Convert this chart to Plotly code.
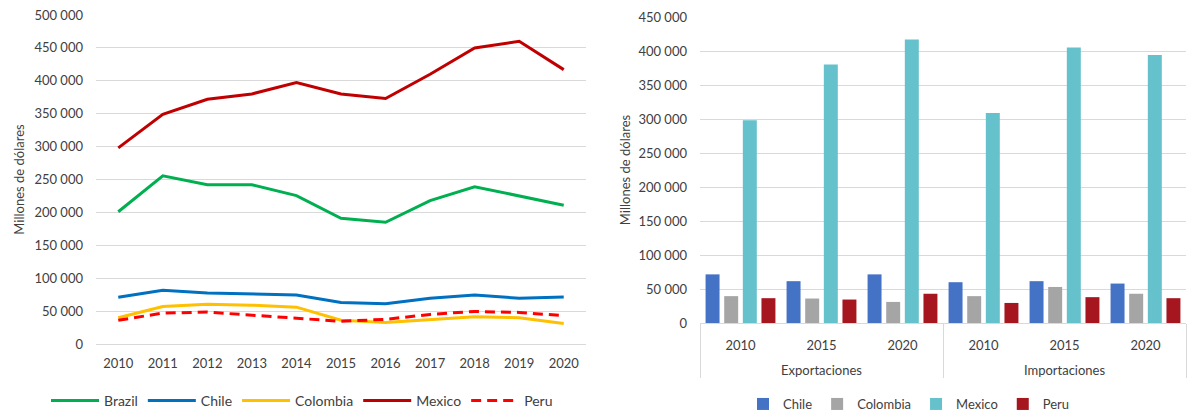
import plotly.graph_objects as go

# ---------------- Data ----------------
years = ["2010", "2011", "2012", "2013", "2014", "2015", "2016", "2017", "2018", "2019", "2020"]
brazil = [201000, 255500, 242000, 242000, 225500, 191000, 185000, 218000, 239000, 225000, 211000]
chile = [71000, 81500, 77500, 76000, 74500, 63000, 61000, 69500, 74500, 69500, 71500]
colombia = [40000, 57000, 60500, 59000, 56000, 36000, 32500, 37500, 41500, 40000, 31000]
mexico = [298000, 349000, 372000, 380000, 397500, 380000, 373000, 410000, 450000, 460000, 417000]
peru = [36000, 47000, 48500, 44000, 40000, 34500, 37500, 45000, 49500, 48000, 43000]

flow_groups = ["Exportaciones", "Exportaciones", "Exportaciones", "Importaciones", "Importaciones", "Importaciones"]
flow_years = ["2010", "2015", "2020", "2010", "2015", "2020"]
bar_chile = [71500, 61500, 71500, 60000, 61500, 58000]
bar_colombia = [39500, 36000, 31000, 39500, 53000, 43000]
bar_mexico = [298000, 380000, 417000, 309000, 405000, 394000]
bar_peru = [36500, 34500, 43000, 29500, 38000, 36500]

FONT = "Lato"
TXT = "#404040"
GRID = "#D9D9D9"

fig = go.Figure()

line_specs = [
    ("Brazil", brazil, "#00B050", "solid"),
    ("Chile", chile, "#0070C0", "solid"),
    ("Colombia", colombia, "#FFC000", "solid"),
    ("Mexico", mexico, "#C00000", "solid"),
    ("Peru", peru, "#FF0000", "10px,6px"),
]
for name, vals, col, dash in line_specs:
    fig.add_trace(go.Scatter(
        x=years, y=vals, name=name, mode="lines",
        line=dict(color=col, width=3, dash=dash),
        xaxis="x", yaxis="y", legend="legend",
    ))

# year labels get an extra blank line so the group row sits lower, as in the reference
year_labels = [y + "<br> " for y in flow_years]
bar_specs = [
    ("Chile", bar_chile, "#4472C4"),
    ("Colombia", bar_colombia, "#A5A5A5"),
    ("Mexico", bar_mexico, "#65C1CB"),
    ("Peru", bar_peru, "#A5161F"),
]
for name, vals, col in bar_specs:
    fig.add_trace(go.Bar(
        x=[flow_groups, year_labels], y=vals, name=name,
        marker=dict(color=col, line=dict(width=0)),
        xaxis="x2", yaxis="y2", legend="legend2",
    ))

W, H = 1187, 412

fig.update_layout(
    width=W, height=H,
    margin=dict(l=0, r=0, t=0, b=0, autoexpand=False),
    paper_bgcolor="white", plot_bgcolor="white",
    font=dict(family=FONT, size=13, color=TXT),
    separators=". ",
    barmode="group", bargap=0.08, bargroupgap=0.25,
    xaxis=dict(
        domain=[96 / W, 586 / W], type="category", range=[-0.5, 10.5],
        showgrid=False, showline=False, zeroline=False, ticks="",
        tickfont=dict(size=13, color=TXT), ticklabelstandoff=10,
        anchor="y", automargin=False,
    ),
    yaxis=dict(
        domain=[(H - 344) / H, (H - 15) / H], range=[0, 500000],
        dtick=50000, tickformat=",d", showgrid=True, gridcolor=GRID, gridwidth=1,
        zeroline=True, zerolinecolor=GRID, zerolinewidth=1, showline=False, ticks="",
        tickfont=dict(size=13, color=TXT), ticklabelstandoff=12,
        title=dict(text="Millones de dólares", font=dict(size=13, color=TXT), standoff=6),
        anchor="x", automargin=False,
    ),
    xaxis2=dict(
        domain=[700 / W, 1186 / W], type="multicategory",
        showgrid=False, showline=True, linecolor=GRID, linewidth=1, zeroline=False, ticks="",
        showdividers=True, dividercolor=GRID, dividerwidth=1,
        tickfont=dict(size=13, color=TXT), ticklabelstandoff=10,
        anchor="y2", automargin=False,
    ),
    yaxis2=dict(
        domain=[(H - 323) / H, (H - 17) / H], range=[0, 450000],
        dtick=50000, tickformat=",d", showgrid=True, gridcolor=GRID, gridwidth=1,
        zeroline=False, showline=False, ticks="",
        tickfont=dict(size=13, color=TXT), ticklabelstandoff=12,
        title=dict(text="Millones de dólares", font=dict(size=13, color=TXT), standoff=4),
        anchor="x2", automargin=False,
    ),
    legend=dict(
        orientation="h", x=302 / W, xanchor="center", y=(H - 401) / H, yanchor="middle",
        font=dict(size=14, color=TXT), bgcolor="rgba(0,0,0,0)", itemwidth=48,
        traceorder="normal",
    ),
    legend2=dict(
        orientation="h", x=909 / W, xanchor="center", y=(H - 404) / H, yanchor="middle",
        font=dict(size=13, color=TXT), bgcolor="rgba(0,0,0,0)", itemwidth=30,
        traceorder="normal",
    ),
)

# remove the browser's default 8px page margin so the figure sits at the window origin
fig.write_html(
    "out.html",
    config={"displayModeBar": False},
    post_script="document.body.style.margin='0';",
)
